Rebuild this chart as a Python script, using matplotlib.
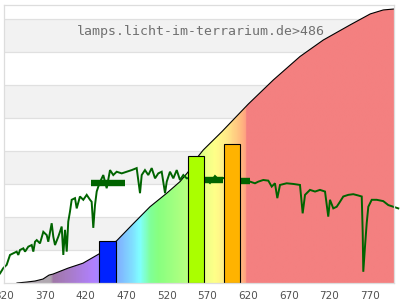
import matplotlib
matplotlib.use('Agg')
import matplotlib.pyplot as plt
import numpy as np
from matplotlib.colors import LinearSegmentedColormap, to_rgb

# Outline of the filled curve (wavelength nm, relative level)
curve_wl = [335.5, 347.8, 357.7, 367.5, 374.9, 379.8, 398.3, 416.7, 436.4, 458.2,
            478.3, 499.2, 519.8, 536.1, 546.0, 556.7, 564.8, 587.5, 620.2, 651.0,
            683.8, 712.5, 745.7, 770.3, 786.3, 800.0]
curve_val = [0.0, 0.03, 0.06, 0.12, 0.24, 0.27, 0.45, 0.60, 0.88, 1.28,
             1.79, 2.31, 2.72, 3.07, 3.36, 3.78, 4.03, 4.58, 5.42, 6.15,
             6.86, 7.36, 7.82, 8.15, 8.27, 8.30]

# Measured spectrum (green line)
spec_wl = [314.6, 318.6, 322.8, 326.9, 331.0, 335.1, 337.1, 339.2, 343.3, 345.4,
           349.4, 353.6, 355.6, 357.7, 359.8, 363.8, 367.9, 372.1, 374.0, 378.2,
           380.2, 382.3, 386.3, 388.4, 390.5, 392.5, 394.6, 396.7, 398.6, 400.7,
           402.8, 406.9, 409.0, 413.0, 417.1, 421.3, 425.4, 427.4, 429.4, 431.5,
           433.6, 435.6, 437.7, 441.7, 445.9, 450.0, 454.0, 458.2, 464.4, 470.5,
           476.7, 482.8, 486.9, 489.0, 493.0, 497.1, 501.3, 505.4, 509.4, 513.6,
           517.7, 519.8, 523.8, 527.9, 532.1, 536.1, 540.2, 544.4, 555.8,
           566.9, 573.0, 579.2, 585.4, 589.1, 611.3, 622.3, 628.4, 632.5, 638.6,
           644.8, 649.0, 653.0, 655.9, 659.2, 667.4, 675.6, 683.8, 687.1, 690.0,
           696.1, 702.3, 708.4, 714.6, 718.6, 720.7, 724.8, 729.0, 733.0, 737.1,
           743.3, 749.4, 755.6, 759.8, 761.0, 761.7, 763.8, 765.9, 767.9, 772.1,
           778.2, 786.3, 792.5, 798.6, 804.8]
spec_val = [0.29, 0.45, 0.55, 0.85, 0.90, 0.95, 0.85, 1.00, 1.05, 0.95,
            1.10, 1.15, 0.95, 1.25, 1.30, 1.20, 1.55, 1.45, 1.25, 1.81,
            1.40, 1.15, 1.40, 1.55, 1.71, 0.85, 1.61, 0.95, 1.86, 2.16,
            2.52, 2.57, 2.26, 2.62, 2.52, 2.67, 2.52, 2.46, 1.67, 2.36,
            2.77, 2.92, 3.06, 3.27, 2.87, 3.42, 3.27, 3.37, 3.32, 3.37,
            3.42, 3.48, 2.72, 3.27, 3.42, 3.27, 3.48, 3.17, 3.32, 3.37,
            2.72, 3.07, 3.37, 3.17, 3.42, 3.12, 3.27, 3.17, 3.21,
            3.18, 3.03, 3.24, 3.09, 3.18, 3.09, 3.07, 3.02, 3.07, 3.12,
            3.10, 2.92, 3.02, 2.57, 2.97, 3.02, 3.00, 2.97, 2.11, 2.67,
            2.82, 2.77, 2.82, 2.77, 2.01, 2.52, 2.26, 2.31, 2.46, 2.62,
            2.67, 2.69, 2.65, 2.62, 1.51, 0.34, 1.10, 1.81, 2.31, 2.52,
            2.52, 2.48, 2.36, 2.31, 2.26]

# Dense flat stretches of the spectrum (start, end, level)
flat_start = [426.6, 566.0, 611.0]
flat_end = [468.1, 589.0, 622.0]
flat_val = [3.03, 3.13, 3.09]

# Peak bars (left, right, height, colour)
bar_left = [436.4, 546.3, 590.6]
bar_right = [457.4, 566.0, 610.3]
bar_val = [1.27, 3.85, 4.20]
bar_colors = ['#0022ff', '#aaff00', '#ffb300']

tick_vals = list(range(320, 771, 50))
label_text = 'lamps.licht-im-terrarium.de>486'

# colour stops for the spectral fill
stops = [(320, '#b0a8b0'), (376, '#b0a8b0'), (380, '#a078a8'), (400, '#a87cc8'),
         (430, '#b080ff'), (445, '#9090ff'), (460, '#80b0ff'), (478, '#80e0ff'),
         (487, '#80ffff'), (500, '#80ff98'), (510, '#88ff80'), (540, '#b0ff80'),
         (555, '#c8ff80'), (570, '#f0ff88'), (580, '#ffff88'), (595, '#ffe888'),
         (610, '#ffc080'), (618.5, '#ffa080'), (619, '#f48080'), (800, '#f48080')]

fig = plt.figure(figsize=(4, 3), dpi=100)
ax = fig.add_axes([4.4 / 400, 17 / 300, 390 / 400, 278 / 300])
ax.set_xlim(320, 800)
ax.set_ylim(0, 8.42)

# background bands
for k in [1, 3, 5, 7]:
    ax.axhspan(k, k + 1, color='#f2f2f2', lw=0, zorder=0)
for k in range(1, 9):
    ax.axhline(k, color='#e0e0e0', lw=0.9, zorder=0.5)

# spectral gradient under the curve
cmap = LinearSegmentedColormap.from_list(
    'spec', [((w - 320) / 480, to_rgb(c)) for w, c in stops])
grad = np.linspace(0, 1, 960).reshape(1, -1)
poly = ax.fill_between(curve_wl, 0, curve_val, color='none', lw=0)
img = ax.imshow(grad, cmap=cmap, extent=[320, 800, 0, 8.42], aspect='auto',
                origin='lower', zorder=1, interpolation='bilinear')
img.set_clip_path(poly.get_paths()[0], transform=ax.transData)
ax.plot(curve_wl, curve_val, color='black', lw=0.8, zorder=2)

# spectrum line
ax.plot(spec_wl, spec_val, color='#006400', lw=1.4, zorder=3, clip_on=False,
        solid_joinstyle='miter')
for s, e, v in zip(flat_start, flat_end, flat_val):
    ax.plot([s, e], [v, v], color='#006400', lw=4.6, zorder=3,
            solid_capstyle='butt')

# peak bars
for l, r, h, c in zip(bar_left, bar_right, bar_val, bar_colors):
    ax.bar(l, h, width=r - l, align='edge', color=c, edgecolor='black',
           lw=0.8, zorder=4)

ax.text(0.505, 7.62 / 8.42, label_text, transform=ax.transAxes,
        ha='center', va='center', family='DejaVu Sans Mono', fontsize=9.5,
        color='#707070', zorder=5)

ax.set_xticks(tick_vals)
ax.set_xticklabels([str(t) for t in tick_vals])
ax.set_yticks([])
ax.tick_params(axis='x', length=0, pad=6, labelsize=7.5, labelcolor='#505050')
for sp in ax.spines.values():
    sp.set_color('#dddddd')
    sp.set_linewidth(0.9)
    sp.set_zorder(6)

fig.savefig('out.png', dpi=100)
